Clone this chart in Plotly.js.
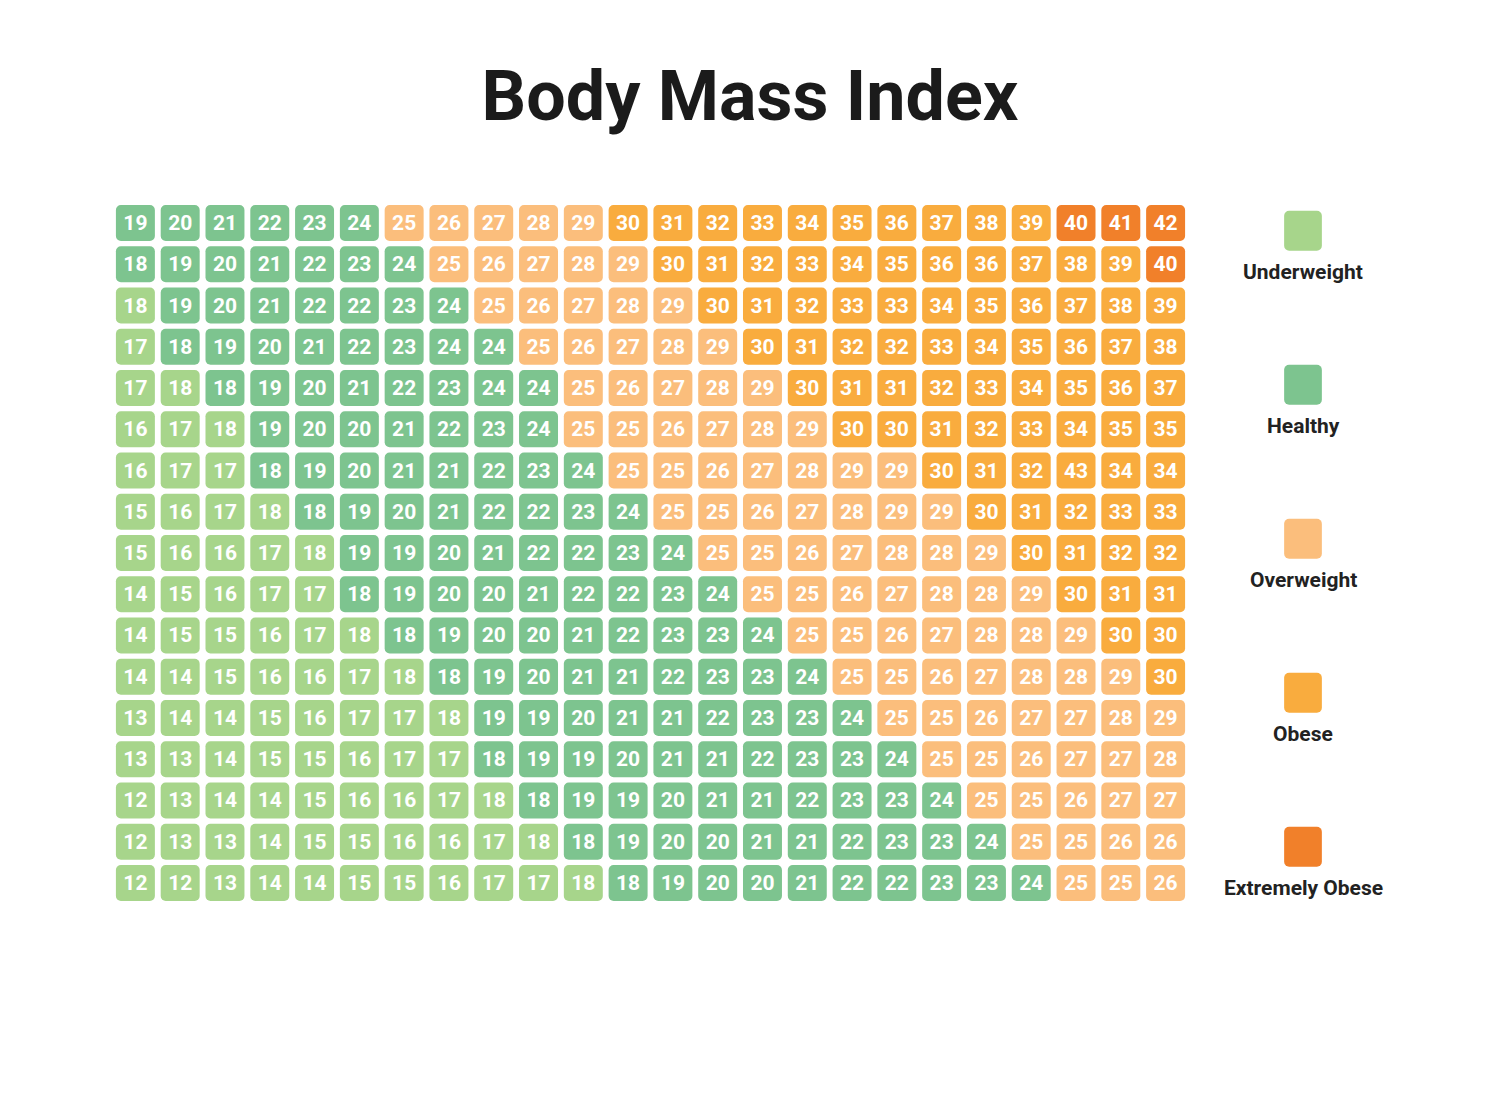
<!DOCTYPE html>
<html>
<head>
<meta charset="utf-8">
<script src="https://cdn.plot.ly/plotly-3.0.1.min.js"></script>
<style>html,body{margin:0;padding:0;background:#fff;}#chart{width:1500px;height:1100px;}</style>
</head>
<body>
<div id="chart"></div>
<script>
// BMI values per row (top row first), 24 columns each
const row01 = [19,20,21,22,23,24,25,26,27,28,29,30,31,32,33,34,35,36,37,38,39,40,41,42];
const row02 = [18,19,20,21,22,23,24,25,26,27,28,29,30,31,32,33,34,35,36,36,37,38,39,40];
const row03 = [18,19,20,21,22,22,23,24,25,26,27,28,29,30,31,32,33,33,34,35,36,37,38,39];
const row04 = [17,18,19,20,21,22,23,24,24,25,26,27,28,29,30,31,32,32,33,34,35,36,37,38];
const row05 = [17,18,18,19,20,21,22,23,24,24,25,26,27,28,29,30,31,31,32,33,34,35,36,37];
const row06 = [16,17,18,19,20,20,21,22,23,24,25,25,26,27,28,29,30,30,31,32,33,34,35,35];
const row07 = [16,17,17,18,19,20,21,21,22,23,24,25,25,26,27,28,29,29,30,31,32,43,34,34];
const row08 = [15,16,17,18,18,19,20,21,22,22,23,24,25,25,26,27,28,29,29,30,31,32,33,33];
const row09 = [15,16,16,17,18,19,19,20,21,22,22,23,24,25,25,26,27,28,28,29,30,31,32,32];
const row10 = [14,15,16,17,17,18,19,20,20,21,22,22,23,24,25,25,26,27,28,28,29,30,31,31];
const row11 = [14,15,15,16,17,18,18,19,20,20,21,22,23,23,24,25,25,26,27,28,28,29,30,30];
const row12 = [14,14,15,16,16,17,18,18,19,20,21,21,22,23,23,24,25,25,26,27,28,28,29,30];
const row13 = [13,14,14,15,16,17,17,18,19,19,20,21,21,22,23,23,24,25,25,26,27,27,28,29];
const row14 = [13,13,14,15,15,16,17,17,18,19,19,20,21,21,22,23,23,24,25,25,26,27,27,28];
const row15 = [12,13,14,14,15,16,16,17,18,18,19,19,20,21,21,22,23,23,24,25,25,26,27,27];
const row16 = [12,13,13,14,15,15,16,16,17,18,18,19,20,20,21,21,22,23,23,24,25,25,26,26];
const row17 = [12,12,13,14,14,15,15,16,17,17,18,18,19,20,20,21,22,22,23,23,24,25,25,26];
const rows = [row01,row02,row03,row04,row05,row06,row07,row08,row09,row10,row11,row12,row13,row14,row15,row16,row17];

// Number of cells in each category per row, left to right: [Underweight, Healthy, Overweight, Obese, Extremely Obese]
const categoryCounts = [
  [0,6,5,10,3],[0,7,5,11,1],[1,7,5,11,0],[1,8,5,10,0],[2,8,5,9,0],[3,7,6,8,0],
  [3,8,7,6,0],[4,8,7,5,0],[5,8,7,4,0],[5,9,7,3,0],[6,9,7,2,0],[7,9,7,1,0],
  [8,9,7,0,0],[8,10,6,0,0],[9,10,5,0,0],[10,10,4,0,0],[11,10,3,0,0]
];

const categories = ['Underweight','Healthy','Overweight','Obese','Extremely Obese'];
const categoryColors = ['#a7d58b','#7dc48f','#fbbe7c','#f9ac3e','#f1802a'];

// Build the grid trace
const nRows = rows.length, nCols = rows[0].length;
const cellH = 0.873, cellW = 0.87;
const gx = [], gy = [], gbase = [], gtext = [], gcol = [];
rows.forEach((vals, r) => {
  const cats = [];
  categoryCounts[r].forEach((n, k) => { for (let i = 0; i < n; i++) cats.push(k); });
  vals.forEach((v, c) => {
    gx.push(c);
    gy.push(cellH);
    gbase.push(r + (1 - cellH) / 2);
    gtext.push(String(v));
    gcol.push(categoryColors[cats[c]]);
  });
});

const gridTrace = {
  type: 'bar', x: gx, y: gy, base: gbase, width: cellW,
  marker: {color: gcol, line: {width: 0}},
  text: gtext, textposition: 'inside', insidetextanchor: 'middle', textangle: 0,
  constraintext: 'none',
  textfont: {family: 'Roboto, Arial, sans-serif', size: 21, color: '#ffffff', weight: 700},
  hoverinfo: 'skip', showlegend: false, xaxis: 'x', yaxis: 'y'
};

// Legend as its own small axes
const legX = categories.map(() => 0);
const legY = categories.map(() => 0.26);
const legBase = categories.map((_, i) => i + 0.07);
const legendTrace = {
  type: 'bar', x: legX, y: legY, base: legBase, width: 0.92,
  marker: {color: categoryColors, line: {width: 0}},
  hoverinfo: 'skip', showlegend: false, xaxis: 'x2', yaxis: 'y2'
};

const legendLabels = categories.map((name, i) => ({
  text: name, xref: 'x2', yref: 'y2', x: 0, y: i + 0.47,
  showarrow: false, xanchor: 'center', yanchor: 'middle',
  font: {family: 'Roboto, Arial, sans-serif', size: 21, color: '#222222', weight: 700}
}));

const layout = {
  width: 1500, height: 1100,
  paper_bgcolor: '#ffffff', plot_bgcolor: '#ffffff',
  margin: {l: 0, r: 0, t: 0, b: 0},
  barmode: 'overlay', barcornerradius: 5,
  title: {
    text: 'Body Mass Index', x: 0.5, xanchor: 'center', y: 1 - 95/1100, yanchor: 'middle',
    font: {family: 'Roboto, Arial, sans-serif', size: 70, color: '#1b1b1b', weight: 700}
  },
  xaxis: {domain: [113/1500, 1188/1500], range: [-0.5, nCols - 0.5], visible: false, fixedrange: true},
  yaxis: {domain: [1 - 903.6/1100, 1 - 202.4/1100], range: [nRows, 0], visible: false, fixedrange: true},
  xaxis2: {domain: [1262/1500, 1344/1500], range: [-1, 1], visible: false, fixedrange: true},
  yaxis2: {domain: [1 - 970/1100, 1 - 200/1100], range: [5, 0], visible: false, fixedrange: true},
  annotations: legendLabels
};

Plotly.newPlot('chart', [gridTrace, legendTrace], layout, {displayModeBar: false, staticPlot: true});
</script>
</body>
</html>
